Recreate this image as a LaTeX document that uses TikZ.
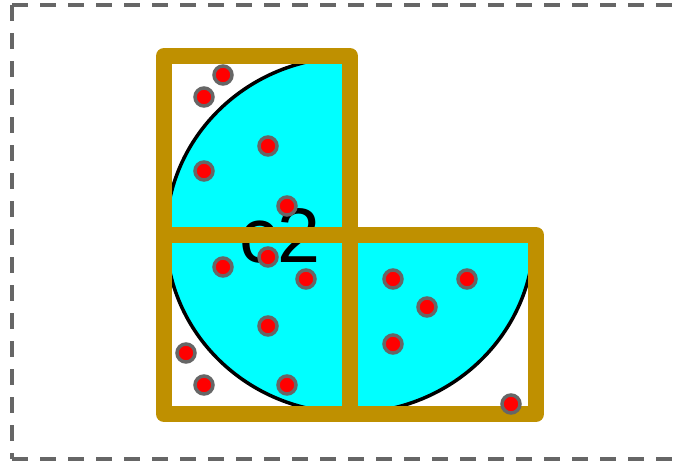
\documentclass[tikz,border=0pt]{standalone}
\usepackage{fontspec}
\setmainfont{Liberation Sans}
\usetikzlibrary{positioning}
\definecolor{cellgold}{HTML}{BF9000}
\definecolor{regioncyan}{HTML}{00FFFF}
\definecolor{dotred}{HTML}{FF0000}
\definecolor{ringgray}{HTML}{666666}

\def\px{0.02cm}

\begin{document}
\begin{tikzpicture}[
    x=\px, y=-\px,
    cellframe/.style={draw=cellgold, line width=16*\px, line join=round},
    sample/.style={circle, fill=dotred, draw=ringgray, line width=3.5*\px,
      minimum size=18*\px, inner sep=0pt},
  ]

  \useasboundingbox (0,0) rectangle (682,463);

  % Outer dashed frame
  \draw[ringgray, line width=4*\px, dash pattern=on 16*\px off 12*\px]
    (12,5) -- (700,5) (12,459) -- (700,459) (12,5) -- (12,459);

  % === Region (clipped to the three cells) ===
  \def\cw{186}
  \def\ch{179}
  \def\ox{164}
  \def\oy{56}

  \begin{scope}
    \clip (\ox,\oy) -- (\ox+\cw,\oy) -- (\ox+\cw,\oy+\ch) -- (\ox+2*\cw,\oy+\ch)
      -- (\ox+2*\cw,\oy+2*\ch) -- (\ox,\oy+2*\ch) -- cycle;
    \filldraw[fill=regioncyan, draw=black, line width=3.5*\px]
      (\ox+\cw,\oy+\ch) ellipse [x radius=184, y radius=178];
  \end{scope}

  % Region label
  \node[font=\fontsize{44}{50}\selectfont, inner sep=0pt] (c2) at (280,236) {c2};

  % Cells
  \draw[cellframe] (\ox,\oy) rectangle (\ox+\cw,\oy+\ch);
  \draw[cellframe] (\ox,\oy+\ch) rectangle (\ox+\cw,\oy+2*\ch);
  \draw[cellframe] (\ox+\cw,\oy+\ch) rectangle (\ox+2*\cw,\oy+2*\ch);

  % Sample points
  \foreach \x/\y [count=\i] in {223/75, 204/97, 268/146, 204/171, 287/206,
      223/267, 268/257, 306/279, 268/326, 186/353, 204/385, 287/385,
      393/279, 467/279, 427/307, 393/344, 511/404} {
    \node[sample] (s\i) at (\x,\y) {};
  }

\end{tikzpicture}
\end{document}
